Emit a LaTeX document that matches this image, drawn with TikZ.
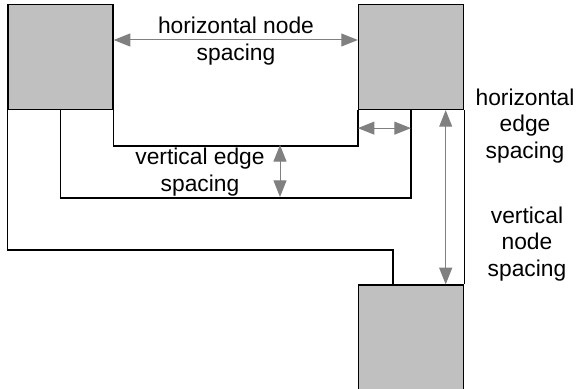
\documentclass[tikz,border=0pt]{standalone}
\usepackage{fontspec}
\setmainfont{Liberation Sans}
\usepackage{tikz}
\usetikzlibrary{arrows.meta}
\definecolor{boxgray}{RGB}{192,192,192}
\definecolor{spcgray}{RGB}{128,128,128}

\begin{document}
\begin{tikzpicture}[x=0.5pt,y=-0.5pt,
   font=\fontsize{11.4}{13.4}\selectfont,
   blk/.style={draw,fill=boxgray,line width=0.65pt,minimum size=52.5pt,inner sep=0pt},
   edg/.style={line width=0.65pt},
   spc/.style={spcgray,line width=0.5pt,<->,>={Triangle[length=8.3pt,width=6.5pt]}},
   lbl/.style={align=center,inner sep=0pt}]
  \useasboundingbox (0,0) rectangle (578,389);
  % blocks
  \node[blk] (A) at (60.5,57)    {};
  \node[blk] (B) at (411,57)     {};
  \node[blk] (C) at (411,337.5)  {};
  % edges
  \draw[edg] (A.south east) -- ++(0,36)  -| (B.south west);
  \draw[edg] (A.south)      -- ++(0,88)  -| (B.south);
  \draw[edg] (A.south west) -- ++(0,140) -| ([xshift=17.5pt]C.north west);
  \draw[edg] (B.south east) -- (C.north east);
  % spacing arrows
  \coordinate (ves1) at (280,145);
  \coordinate (ves2) at (280,197);
  \draw[spc] ([yshift=8.5pt]A.east) -- ([yshift=8.5pt]B.west);
  \draw[spc] (ves1) -- (ves2);
  \draw[spc] ([yshift=-9pt]B.south west) -- ([yshift=-9pt]B.south);
  \draw[spc] ([xshift=17.35pt]B.south) -- ([xshift=17.35pt]C.north);
  % labels
  \node[lbl] (hns) at (236,41)  {horizontal node\\spacing};
  \node[lbl] (ves) at (200,172) {vertical edge\\spacing};
  \node[lbl] (hes) at (525,126) {horizontal\\edge\\spacing};
  \node[lbl] (vns) at (527,244) {vertical\\node\\spacing};
\end{tikzpicture}
\end{document}
